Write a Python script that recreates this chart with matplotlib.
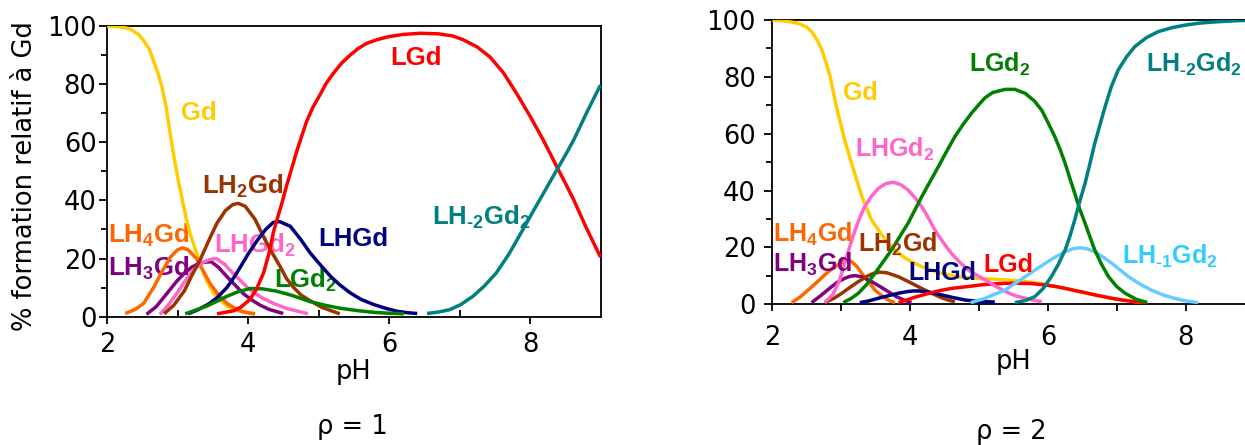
import matplotlib
matplotlib.use("Agg")
import matplotlib.pyplot as plt
from matplotlib.ticker import MultipleLocator, FixedLocator

plt.rcParams['font.family'] = ['DejaVu Sans']
plt.rcParams['mathtext.fontset'] = 'custom'
plt.rcParams['mathtext.rm'] = 'Liberation Sans:bold'
plt.rcParams['mathtext.it'] = 'Liberation Sans:bold'
plt.rcParams['mathtext.bf'] = 'Liberation Sans:bold'
plt.rcParams['mathtext.sf'] = 'Liberation Sans:bold'

# ---------------- rho = 1 (left panel) ----------------
l_gd_ph = [2.0, 2.2, 2.33, 2.45, 2.52, 2.6, 2.66, 2.72, 2.78, 2.84, 2.89, 2.95, 3.01, 3.07, 3.13, 3.2, 3.27, 3.34, 3.41, 3.5, 3.6, 3.7, 3.79, 3.95, 4.1]
l_gd_v = [100, 99.7, 99, 97, 95, 92, 88, 84, 79, 72, 64, 55, 47, 40, 33, 27, 22, 17, 12.6, 8.5, 5.7, 3.7, 2.5, 1.5, 1.1]

l_lh4_ph = [2.26, 2.4, 2.52, 2.66, 2.78, 2.9, 3.0, 3.07, 3.15, 3.27, 3.37, 3.46, 3.58, 3.7, 3.82, 3.93, 4.1]
l_lh4_v = [1.1, 2.5, 4.6, 10, 15.5, 20.5, 23, 23.7, 23, 20, 15.5, 11.5, 7.5, 4.6, 2.8, 1.7, 0.9]

l_lh3_ph = [2.56, 2.7, 2.85, 3.0, 3.1, 3.2, 3.3, 3.4, 3.48, 3.58, 3.7, 3.82, 3.93, 4.05, 4.17, 4.3, 4.5]
l_lh3_v = [0.8, 3.5, 8, 12.5, 15, 17, 18.3, 18.8, 18.9, 17, 13.8, 10.8, 8, 5.8, 4, 2.5, 1.1]

l_lhgd2_ph = [2.75, 2.87, 2.99, 3.1, 3.22, 3.34, 3.46, 3.55, 3.67, 3.79, 3.91, 4.03, 4.2, 4.36, 4.55, 4.74, 4.85]
l_lhgd2_v = [0.8, 4, 8, 12, 16, 18.5, 19.7, 20, 18, 14.9, 12, 9.2, 6.5, 4.6, 2.8, 1.7, 1.0]

l_lh2_ph = [2.81, 2.95, 3.1, 3.2, 3.32, 3.44, 3.56, 3.68, 3.78, 3.86, 3.96, 4.1, 4.22, 4.33, 4.45, 4.55, 4.65, 4.75, 4.88, 5.05, 5.3]
l_lh2_v = [1, 4, 9, 14, 19.5, 26, 32.2, 36.5, 38.5, 39, 38, 33.5, 27.5, 22.5, 17.5, 13, 10, 7.5, 5.5, 3.2, 1.0]

l_lhgd_ph = [3.15, 3.3, 3.45, 3.56, 3.7, 3.8, 3.89, 4.0, 4.13, 4.25, 4.36, 4.45, 4.6, 4.75, 4.88, 5.02, 5.17, 5.3, 5.45, 5.6, 5.78, 5.95, 6.11, 6.25, 6.4]
l_lhgd_v = [1, 2.5, 4.5, 6.5, 10, 13.5, 17, 21.5, 26.2, 30, 32.5, 32.7, 31.1, 26.5, 22, 18, 13.9, 11, 8.2, 6, 4.2, 2.9, 1.9, 1.4, 1.1]

l_lgd2_ph = [3.11, 3.25, 3.41, 3.55, 3.7, 3.85, 4.03, 4.2, 4.4, 4.6, 4.75, 4.88, 5.1, 5.31, 5.55, 5.78, 6.0, 6.21]
l_lgd2_v = [1, 2.2, 3.6, 5.2, 7, 8.5, 9.7, 9.6, 8.8, 7.5, 6.3, 5.2, 3.9, 2.9, 2.1, 1.5, 1.2, 1.0]

l_lgd_ph = [3.56, 3.79, 3.9, 4.03, 4.12, 4.22, 4.3, 4.36, 4.41, 4.48, 4.55, 4.62, 4.69, 4.76, 4.83, 4.92, 5.02, 5.11, 5.21, 5.33, 5.45, 5.56, 5.68, 5.83, 5.99, 6.2, 6.45, 6.7, 6.9, 7.05, 7.25, 7.43, 7.62, 7.81, 8.0, 8.19, 8.38, 8.5, 8.62, 8.8, 9.0]
l_lgd_v = [1, 2, 3.3, 6, 9.5, 15, 22, 29, 33.3, 39, 45.3, 51, 56.8, 62, 67.1, 72, 76.3, 80.3, 83.7, 87.3, 90, 92.2, 94, 95.3, 96.3, 97.1, 97.5, 97.3, 96.6, 95.3, 92.8, 89.4, 84, 76.8, 69, 60.7, 51.6, 46, 40.2, 30.5, 20.5]

l_lhm2_ph = [6.54, 6.7, 6.86, 7.02, 7.19, 7.35, 7.52, 7.7, 7.9, 8.05, 8.19, 8.38, 8.5, 8.62, 8.8, 9.0]
l_lhm2_v = [1.1, 1.6, 2.4, 4.2, 7, 10.5, 15, 21.5, 30, 36.5, 42.4, 50.5, 55.5, 60.8, 70, 79.7]

# ---------------- rho = 2 (right panel) ----------------
r_gd_ph = [2.0, 2.2, 2.38, 2.5, 2.57, 2.65, 2.72, 2.78, 2.84, 2.93, 3.05, 3.18, 3.3, 3.44, 3.64, 3.8, 3.97, 4.22, 4.46, 4.7, 4.99, 5.23, 5.57, 5.9, 6.25, 6.54, 6.93, 7.27, 7.44]
r_gd_v = [100, 99.6, 98.8, 97.5, 95.9, 93, 89.4, 85, 80, 69.5, 57.8, 47.2, 37.9, 29.7, 22.6, 18.5, 15.6, 12.7, 10.9, 9.7, 9.1, 8.8, 8.3, 7.3, 5.6, 4.0, 2.1, 0.9, 0.5]

r_lh4_ph = [2.28, 2.4, 2.52, 2.64, 2.76, 2.88, 3.01, 3.08, 3.15, 3.22, 3.3, 3.4, 3.49, 3.6, 3.7, 3.78]
r_lh4_v = [0.6, 2.5, 5, 7.6, 10.3, 12.8, 14.8, 15.4, 15.0, 13.5, 10.9, 7.8, 5.0, 2.8, 1.3, 0.6]

r_lh3_ph = [2.57, 2.7, 2.86, 2.96, 3.05, 3.12, 3.2, 3.3, 3.44, 3.56, 3.68, 3.8, 3.92, 4.02]
r_lh3_v = [0.6, 3, 6.2, 8, 9.1, 9.8, 10.1, 9.7, 8, 6.3, 4.5, 2.7, 1.4, 0.6]

r_lhgd2_ph = [2.76, 2.88, 2.97, 3.05, 3.12, 3.2, 3.27, 3.34, 3.44, 3.54, 3.65, 3.76, 3.87, 3.97, 4.07, 4.17, 4.27, 4.36, 4.48, 4.6, 4.72, 4.84, 4.97, 5.09, 5.23, 5.38, 5.52, 5.67, 5.8, 5.91]
r_lhgd2_v = [0.6, 3.5, 8, 14.4, 20, 26, 30.5, 34.3, 38, 40.8, 42.5, 42.9, 42, 40.2, 37.5, 34.3, 30.2, 26.1, 21.8, 17.9, 14.8, 12.1, 10.2, 8.6, 6.5, 4.5, 3.1, 2.1, 1.4, 0.9]

r_lh2_ph = [2.76, 2.9, 3.01, 3.13, 3.25, 3.37, 3.47, 3.56, 3.66, 3.76, 3.83, 3.95, 4.07, 4.19, 4.31, 4.45, 4.55, 4.65]
r_lh2_v = [0.6, 2.2, 3.9, 6, 8, 9.8, 10.9, 11.3, 11.1, 10.3, 9.7, 8.3, 6.8, 5.3, 3.9, 2.4, 1.5, 0.9]

r_lhgd_ph = [3.27, 3.4, 3.55, 3.73, 3.85, 3.97, 4.05, 4.12, 4.25, 4.35, 4.46, 4.6, 4.8, 5.0, 5.23]
r_lhgd_v = [0.6, 1.2, 2.2, 3.3, 4.0, 4.5, 4.7, 4.7, 4.4, 3.9, 3.3, 2.5, 1.5, 1.0, 0.8]

r_lgd2_ph = [3.03, 3.14, 3.25, 3.37, 3.49, 3.61, 3.73, 3.85, 3.97, 4.07, 4.17, 4.29, 4.41, 4.53, 4.65, 4.77, 4.89, 5.0, 5.09, 5.2, 5.38, 5.52, 5.67, 5.8, 5.91, 6.0, 6.1, 6.18, 6.25, 6.32, 6.39, 6.46, 6.54, 6.61, 6.68, 6.78, 6.88, 7.0, 7.12, 7.28, 7.44]
r_lgd2_v = [0.6, 2, 3.9, 7, 10.9, 15, 19.1, 23.8, 28.5, 33.2, 37.9, 43.2, 48.4, 53.8, 59, 63.3, 67.2, 70.3, 72.7, 74.5, 75.6, 75.6, 74.2, 71.6, 68.3, 64, 59, 54.3, 49.6, 44.2, 39, 33.6, 28.5, 23.7, 19.1, 14, 9.7, 6.2, 3.9, 1.8, 0.6]

r_lgd_ph = [3.83, 3.95, 4.07, 4.19, 4.31, 4.45, 4.6, 4.75, 4.89, 5.05, 5.23, 5.4, 5.57, 5.75, 5.96, 6.1, 6.25, 6.4, 6.54, 6.7, 6.93, 7.1, 7.27, 7.44]
r_lgd_v = [0.6, 1.5, 2.5, 3.3, 4.1, 4.9, 5.6, 6.0, 6.4, 6.9, 7.2, 7.4, 7.4, 7.3, 6.8, 6.3, 5.6, 4.8, 4.1, 3.2, 2.1, 1.4, 0.9, 0.6]

r_lhm1_ph = [4.88, 5.09, 5.2, 5.38, 5.52, 5.67, 5.81, 5.96, 6.1, 6.25, 6.36, 6.46, 6.57, 6.68, 6.8, 6.93, 7.05, 7.17, 7.33, 7.5, 7.67, 7.84, 8.0, 8.18]
r_lhm1_v = [0.6, 2.1, 3.3, 5, 7.3, 9.7, 12, 14.4, 16.5, 18.5, 19.5, 19.9, 19.5, 18.5, 16.6, 14.4, 12, 9.7, 7.2, 5, 3.3, 2.1, 1.2, 0.6]

r_lhm2_ph = [5.52, 5.67, 5.81, 5.93, 6.05, 6.15, 6.25, 6.32, 6.39, 6.46, 6.54, 6.61, 6.68, 6.76, 6.83, 6.92, 7.02, 7.14, 7.26, 7.43, 7.6, 7.8, 7.99, 8.2, 8.47, 8.7, 9.0]
r_lhm2_v = [0.6, 1.3, 2.7, 5.5, 9.7, 14, 19.1, 24, 29.7, 36, 42.6, 49.5, 56.6, 63.5, 69.5, 76.5, 82.4, 87, 90.6, 93.8, 95.9, 97.3, 98.2, 98.9, 99.4, 99.7, 100]

# colours
C = {
    'Gd': '#FFCC00', 'LH4Gd': '#FF6600', 'LH3Gd': '#800080', 'LHGd2': '#FF66CC',
    'LH2Gd': '#993300', 'LHGd': '#000080', 'LGd2': '#008000', 'LGd': '#FF0000',
    'LHm2Gd2': '#008080', 'LHm1Gd2': '#66CCFF', 'LHm1Gd2_txt': '#33CCFF',
}

left_series = [
    (l_gd_ph, l_gd_v, 'Gd'), (l_lh4_ph, l_lh4_v, 'LH4Gd'), (l_lh3_ph, l_lh3_v, 'LH3Gd'),
    (l_lhgd2_ph, l_lhgd2_v, 'LHGd2'), (l_lh2_ph, l_lh2_v, 'LH2Gd'), (l_lhgd_ph, l_lhgd_v, 'LHGd'),
    (l_lgd2_ph, l_lgd2_v, 'LGd2'), (l_lgd_ph, l_lgd_v, 'LGd'), (l_lhm2_ph, l_lhm2_v, 'LHm2Gd2'),
]
right_series = [
    (r_gd_ph, r_gd_v, 'Gd'), (r_lh4_ph, r_lh4_v, 'LH4Gd'), (r_lh3_ph, r_lh3_v, 'LH3Gd'),
    (r_lh2_ph, r_lh2_v, 'LH2Gd'), (r_lhgd_ph, r_lhgd_v, 'LHGd'), (r_lgd_ph, r_lgd_v, 'LGd'),
    (r_lhgd2_ph, r_lhgd2_v, 'LHGd2'), (r_lhm1_ph, r_lhm1_v, 'LHm1Gd2'),
    (r_lgd2_ph, r_lgd2_v, 'LGd2'), (r_lhm2_ph, r_lhm2_v, 'LHm2Gd2'),
]

left_labels = [
    ('LGd', 6.38, 86.6, 'center', 'LGd'), ('Gd', 3.30, 67.7, 'center', 'Gd'),
    ('LH$_2$Gd', 3.35, 42.4, 'left', 'LH2Gd'), ('LH$_4$Gd', 2.01, 25.3, 'left', 'LH4Gd'),
    ('LH$_3$Gd', 2.01, 14.0, 'left', 'LH3Gd'), ('LHGd$_2$', 3.52, 21.9, 'left', 'LHGd2'),
    ('LHGd', 4.99, 24.3, 'left', 'LHGd'), ('LGd$_2$', 4.37, 9.9, 'left', 'LGd2'),
    (r'LH$_{\text{-}2}$Gd$_2$', 6.61, 31.5, 'left', 'LHm2Gd2'),
]
right_labels = [
    ('Gd', 3.28, 71.7, 'center', 'Gd'), ('LGd$_2$', 4.86, 81.8, 'left', 'LGd2'),
    (r'LH$_{\text{-}2}$Gd$_2$', 7.43, 81.8, 'left', 'LHm2Gd2'), ('LHGd$_2$', 3.20, 51.9, 'left', 'LHGd2'),
    ('LH$_4$Gd', 2.01, 22.0, 'left', 'LH4Gd'), ('LH$_3$Gd', 2.01, 11.5, 'left', 'LH3Gd'),
    ('LH$_2$Gd', 3.24, 18.5, 'left', 'LH2Gd'), ('LHGd', 3.98, 8.5, 'left', 'LHGd'),
    ('LGd', 5.06, 11.5, 'left', 'LGd'), (r'LH$_{\text{-}1}$Gd$_2$', 7.08, 14.4, 'left', 'LHm1Gd2_txt'),
]

W, H = 1245, 445
fig = plt.figure(figsize=(W / 100, H / 100), dpi=100)

def px_axes(x0, x1, ytop, ybot):
    return fig.add_axes([x0 / W, 1 - ybot / H, (x1 - x0) / W, (ybot - ytop) / H])

axL = px_axes(107, 600.5, 26, 316.7)
axR = px_axes(772.3, 1254.6, 20, 304.3)

for ax, series, labels, fs, minor_dir, ypad, xpad, tz in (
        (axL, left_series, left_labels, 18.5, 'in', 1.5, 6, 2),
        (axR, right_series, right_labels, 18, 'out', 6, 10, 4)):
    for xs, ys, key in series:
        ax.plot(xs, ys, color=C[key], lw=2.5, solid_capstyle='butt', zorder=3)
    for txt, x, y, ha, key in labels:
        ax.text(x, y, txt, color=C[key], fontsize=fs, fontweight='bold',
                family='Liberation Sans', ha=ha, va='baseline', zorder=tz, clip_on=False)
    ax.set_xlim(2, 9)
    ax.set_ylim(0, 100)
    ax.xaxis.set_major_locator(FixedLocator([2, 4, 6, 8]))
    ax.xaxis.set_minor_locator(FixedLocator([3, 5, 7]))
    ax.yaxis.set_major_locator(MultipleLocator(20))
    ax.yaxis.set_minor_locator(FixedLocator([10, 30, 50, 70, 90]))
    for s in ax.spines.values():
        s.set_linewidth(1.3)
    ax.tick_params(axis='y', which='major', direction='out', length=6, width=1.3,
                   pad=ypad, labelsize=18.5)
    ax.tick_params(axis='y', which='minor', direction='out', length=4, width=1.3)
    ax.tick_params(axis='x', which='major', direction='out', length=5, width=1.3,
                   pad=xpad, labelsize=18.5)
    ax.tick_params(axis='x', which='minor', direction=minor_dir, length=5, width=1.3)

# axis titles
fig.text(25 / W, 1 - 176.5 / H, '% formation relatif à Gd', rotation=90,
         ha='center', va='center', fontsize=18.5)
fig.text(353 / W, 1 - 372 / H, 'pH', ha='center', va='center', fontsize=18.5)
fig.text(1013 / W, 1 - 362 / H, 'pH', ha='center', va='center', fontsize=18.5)
fig.text(352 / W, 1 - 427 / H, 'ρ = 1', ha='center', va='center', fontsize=18.5)
fig.text(1011 / W, 1 - 432 / H, 'ρ = 2', ha='center', va='center', fontsize=18.5)

fig.savefig('out.png', dpi=100)
